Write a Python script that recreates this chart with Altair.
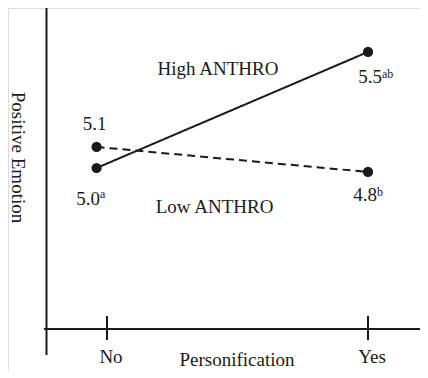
import altair as alt
import pandas as pd

# ---- data ----
persons = ["No", "Yes"]
tick_pos = [0, 1]
point_pos = [-0.04, 1.0]
high_vals = [5.0, 5.496]
low_vals = [5.09, 4.983]
high_labels = ["5.0", "5.5"]
high_sups = ["a", "ab"]
low_labels = ["5.1", "4.8"]
low_sups = ["", "b"]
series_names = ["High ANTHRO", "Low ANTHRO"]
x_title = "Personification"
y_title = "Positive Emotion"

W, H = 412, 362
FONT = "Times New Roman, Liberation Serif, serif"
INK = "#1a1a1a"
FS = 19

df = pd.DataFrame({
    "series": [series_names[0]] * 2 + [series_names[1]] * 2,
    "person": persons * 2,
    "x": point_pos * 2,
    "y": high_vals + low_vals,
    "label": high_labels + low_labels,
    "sup": high_sups + low_sups,
})
ticks = pd.DataFrame({"person": persons, "x": tick_pos})
names = pd.DataFrame({"name": series_names})
one = pd.DataFrame({"a": [0]})

xs = alt.Scale(domain=[-0.3793, 1.1992], nice=False, zero=False)
ys = alt.Scale(domain=[4.13675, 5.68376], nice=False, zero=False)
X = alt.X("x:Q", scale=xs, axis=None)
Y = alt.Y("y:Q", scale=ys, axis=None)

base = alt.Chart(df)

lines = base.mark_line(strokeWidth=2, color=INK).encode(
    x=X, y=Y,
    strokeDash=alt.StrokeDash("series:N", scale=alt.Scale(domain=series_names, range=[[1, 0], [8, 5]]), legend=None),
    detail="series:N",
)
points = base.mark_circle(size=105, opacity=1, color=INK).encode(x=X, y=Y)

layers = [lines, points]

# value labels: (series, person, dx, num_dy, sup_dy, align)
label_specs = [
    (series_names[0], "No", 3.5, 37, 30.5, "right"),
    (series_names[0], "Yes", 14, 31, 26.5, "right"),
    (series_names[1], "No", -2, -17, 0, "center"),
    (series_names[1], "Yes", 9, 29, 24, "right"),
]
for s, p, dx, ndy, sdy, al in label_specs:
    sel = base.transform_filter((alt.datum.series == s) & (alt.datum.person == p))
    layers.append(sel.mark_text(font=FONT, fontSize=FS, color=INK, align=al, baseline="alphabetic", dx=dx, dy=ndy)
                  .encode(x=X, y=Y, text="label:N"))
    if al != "center":
        layers.append(sel.mark_text(font=FONT, fontSize=12, color=INK, align="left", baseline="alphabetic", dx=dx, dy=sdy)
                      .encode(x=X, y=Y, text="sup:N"))

# series names
layers.append(alt.Chart(names).transform_filter(alt.datum.name == series_names[0])
              .mark_text(font=FONT, fontSize=FS, color=INK, baseline="alphabetic")
              .encode(x=alt.value(210), y=alt.value(67), text="name:N"))
layers.append(alt.Chart(names).transform_filter(alt.datum.name == series_names[1])
              .mark_text(font=FONT, fontSize=FS, color=INK, baseline="alphabetic")
              .encode(x=alt.value(206.5), y=alt.value(205), text="name:N"))

# axes drawn as rules
layers.append(alt.Chart(one).mark_rule(strokeWidth=2, color=INK)
              .encode(x=alt.value(38.5), y=alt.value(0), y2=alt.value(347)))
layers.append(alt.Chart(one).mark_rule(strokeWidth=2, color=INK)
              .encode(x=alt.value(36), x2=alt.value(W), y=alt.value(321)))
layers.append(alt.Chart(ticks).mark_rule(strokeWidth=2, color=INK)
              .encode(x=X, y=alt.value(308), y2=alt.value(332)))
layers.append(alt.Chart(ticks).mark_text(font=FONT, fontSize=FS, color=INK, baseline="alphabetic", dx=4)
              .encode(x=X, y=alt.value(355), text="person:N"))

# axis titles
layers.append(alt.Chart(one).mark_text(font=FONT, fontSize=FS, color=INK, angle=90, baseline="middle", text=y_title)
              .encode(x=alt.value(9.5), y=alt.value(149.5)))
layers.append(alt.Chart(one).mark_text(font=FONT, fontSize=FS, color=INK, baseline="alphabetic", text=x_title)
              .encode(x=alt.value(229), y=alt.value(358)))

chart = alt.layer(*layers).properties(
    width=W, height=H, padding=0, autosize=alt.AutoSizeParams(type="none")
).configure_view(stroke=None).configure(background="white")

chart.save("out.html", embed_options={"renderer": "svg", "actions": False})
